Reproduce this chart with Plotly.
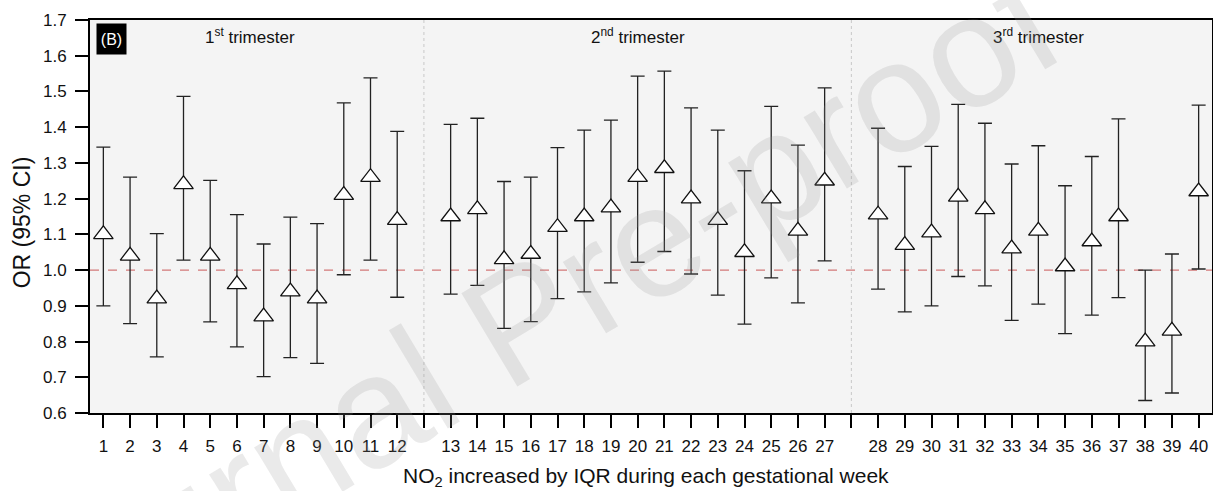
import plotly.graph_objects as go

# ---------------- data ----------------
weeks = list(range(1, 41))

or_est = [1.10, 1.04, 0.92, 1.24, 1.04, 0.96, 0.87, 0.94, 0.92, 1.21, 1.26, 1.14,
          1.15, 1.17, 1.03, 1.045, 1.12, 1.15, 1.175, 1.26, 1.285, 1.20, 1.14, 1.05, 1.20, 1.11, 1.25,
          1.155, 1.07, 1.105, 1.205, 1.17, 1.06, 1.11, 1.01, 1.08, 1.15, 0.80, 0.83, 1.22]

ci_low = [0.900, 0.850, 0.757, 1.028, 0.855, 0.785, 0.702, 0.755, 0.739, 0.987, 1.028, 0.924,
          0.933, 0.957, 0.837, 0.856, 0.920, 0.939, 0.964, 1.022, 1.052, 0.989, 0.930, 0.849, 0.978, 0.908, 1.026,
          0.947, 0.883, 0.900, 0.982, 0.956, 0.859, 0.905, 0.822, 0.874, 0.923, 0.635, 0.656, 1.003]

ci_high = [1.344, 1.260, 1.102, 1.486, 1.251, 1.155, 1.073, 1.148, 1.130, 1.468, 1.538, 1.388,
           1.408, 1.425, 1.248, 1.260, 1.343, 1.392, 1.420, 1.543, 1.557, 1.454, 1.392, 1.278, 1.458, 1.350, 1.510,
           1.397, 1.290, 1.346, 1.464, 1.411, 1.297, 1.348, 1.236, 1.318, 1.423, 1.000, 1.045, 1.462]

trimester_last_week = [12, 27]
trimester_ranges = [(1, 12), (13, 27), (28, 40)]
trimester_labels = ["1<sup>st</sup> trimester", "2<sup>nd</sup> trimester", "3<sup>rd</sup> trimester"]
null_value = 1.0
panel_label = "(B)"
x_title = "NO<sub>2</sub> increased by IQR during each gestational week"
y_title = "OR (95% CI)"
watermark = "Journal Pre-proof"

# ---------------- positions (one empty slot between trimesters) ----------------
def slot(w):
    return (w - 1) + sum(1 for b in trimester_last_week if w > b)

xs = [slot(w) for w in weeks]
gap_slots = [slot(b) + 1 for b in trimester_last_week]
last_slot = slot(weeks[-1])

FONT = "Liberation Sans, Arial, sans-serif"

fig = go.Figure()
fig.add_trace(go.Scatter(
    x=xs, y=or_est, mode="markers",
    marker=dict(symbol="triangle-up", size=17, color="white",
                line=dict(color="#111111", width=1.3)),
    error_y=dict(type="data", symmetric=False,
                 array=[h - e for h, e in zip(ci_high, or_est)],
                 arrayminus=[e - l for e, l in zip(or_est, ci_low)],
                 color="#222222", thickness=1.3, width=7),
    showlegend=False, hoverinfo="skip",
))

shapes = [dict(type="line", xref="paper", x0=0, x1=1, yref="y", y0=null_value, y1=null_value,
               line=dict(color="#d27878", width=1.2, dash="dash"), layer="below")]
for g in gap_slots:
    shapes.append(dict(type="line", xref="x", x0=g, x1=g, yref="paper", y0=0, y1=1,
                       line=dict(color="#c8c8c8", width=1, dash="dot"), layer="below"))

annotations = []
for (a, b), lab in zip(trimester_ranges, trimester_labels):
    annotations.append(dict(x=(slot(a) + slot(b)) / 2, xref="x", y=0.960, yref="paper",
                            text=lab, showarrow=False, xanchor="center", yanchor="middle",
                            font=dict(family=FONT, size=17, color="#111111")))
annotations.append(dict(x=0.005, xref="paper", y=0.992, yref="paper", text=panel_label,
                        showarrow=False, xanchor="left", yanchor="top", bgcolor="black",
                        width=21, height=22, borderpad=4,
                        font=dict(family=FONT, size=16, color="white")))
# axis titles placed as annotations (positions in the reference)
annotations.append(dict(x=-0.061, xref="paper", y=0.484, yref="paper", text=y_title,
                        showarrow=False, xanchor="center", yanchor="middle", textangle=-90,
                        font=dict(family=FONT, size=23, color="#111111")))
annotations.append(dict(x=0.4955, xref="paper", y=-0.162, yref="paper", text=x_title,
                        showarrow=False, xanchor="center", yanchor="middle",
                        font=dict(family=FONT, size=21, color="#111111")))
# faint watermark of the source page
annotations.append(dict(x=0.383, xref="paper", y=0.234, yref="paper", text=watermark,
                        showarrow=False, xanchor="center", yanchor="middle", textangle=-31,
                        font=dict(family=FONT, size=158, color="rgba(150,150,150,0.2)")))

fig.update_layout(
    width=1213, height=491,
    margin=dict(l=90, r=1, t=20, b=78, autoexpand=False),
    paper_bgcolor="white", plot_bgcolor="#f4f4f4",
    font=dict(family=FONT, color="#111111"),
    shapes=shapes, annotations=annotations,
    xaxis=dict(range=[-0.5, last_slot + 0.5], tickmode="array", tickvals=xs,
               ticktext=[str(w) for w in weeks],
               ticks="outside", ticklen=13, tickwidth=2, tickcolor="black",
               minor=dict(tickmode="array", tickvals=gap_slots, ticks="outside", ticklen=13,
                          tickwidth=2, tickcolor="black", showgrid=False),
               showline=True, linecolor="black", linewidth=2, mirror=True,
               showgrid=False, zeroline=False, tickfont=dict(size=17),
               ticklabelstandoff=4, automargin=False),
    yaxis=dict(range=[0.6, 1.7], dtick=0.1, tick0=0.6, tickformat=".1f",
               ticks="outside", ticklen=13, tickwidth=2, tickcolor="black",
               showline=True, linecolor="black", linewidth=2, mirror=True,
               showgrid=False, zeroline=False, tickfont=dict(size=17),
               ticklabelstandoff=5, automargin=False),
)

# remove the page's default 8 px body margin so the figure fills the window exactly
fig.write_html("out.html", config={"displayModeBar": False},
               post_script="document.body.style.margin='0px';document.body.style.overflow='hidden';")
